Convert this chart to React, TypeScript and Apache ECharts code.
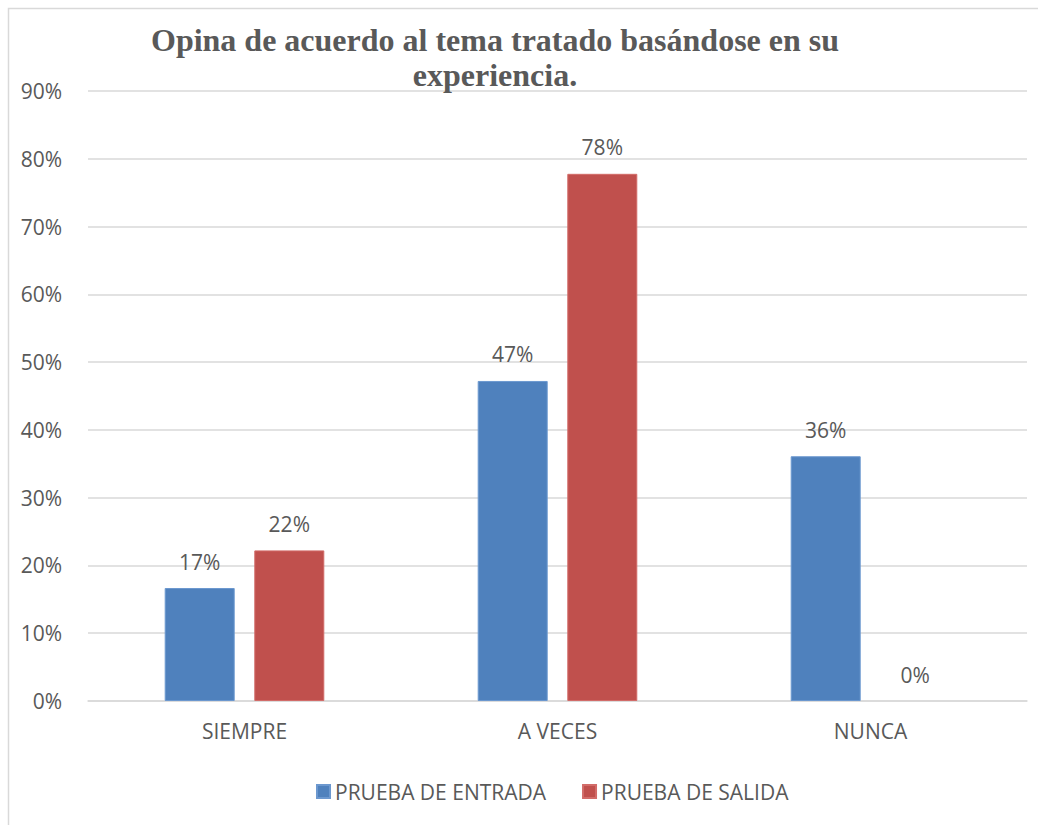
import React, { useEffect, useRef } from "react";
import * as echarts from "echarts";

const categories = ["SIEMPRE", "A VECES", "NUNCA"];
const entradaValues = [16.67, 47.22, 36.11];
const salidaValues = [22.22, 77.78, 0];
const seriesNames = ["PRUEBA DE ENTRADA", "PRUEBA DE SALIDA"];
const titleText = "Opina de acuerdo al tema tratado basándose en su\nexperiencia.";

const FONT = "'Open Sans', 'Liberation Sans', sans-serif";
const GREY = "#595959";

export default function App() {
  const ref = useRef<HTMLDivElement>(null);
  useEffect(() => {
    if (!ref.current) return;
    const chart = echarts.init(ref.current, null, { renderer: "svg" });
    const labelCfg = {
      show: true,
      position: "top" as const,
      distance: 16,
      color: GREY,
      fontFamily: FONT,
      fontSize: 21,
      formatter: (p: any) => Math.round(p.value) + "%",
    };
    const noBorderZero = (arr: number[]) =>
      arr.map((v) => (v === 0 ? { value: v, itemStyle: { borderWidth: 0 } } : v));
    chart.setOption({
      animation: false,
      backgroundColor: "#ffffff",
      title: {
        text: titleText,
        left: 490,
        top: 17,
        textAlign: "center",
        textStyle: {
          fontFamily: "'Liberation Serif', 'Times New Roman', serif",
          fontWeight: "bold",
          fontSize: 32,
          lineHeight: 35,
          color: GREY,
        },
      },
      graphic: [
        {
          type: "rect",
          shape: { x: 8.5, y: 8.5, width: 1100, height: 1000 },
          style: { fill: "none", stroke: "#d9d9d9", lineWidth: 1.5 },
          silent: true,
          z: -1,
        },
      ],
      legend: {
        data: seriesNames,
        bottom: 18,
        left: 311,
        itemWidth: 13,
        itemHeight: 13,
        itemGap: 36,
        icon: "rect",
        textStyle: { color: GREY, fontFamily: FONT, fontSize: 21 },
      },
      grid: { left: 88, right: 11, top: 91, bottom: 124, containLabel: false },
      xAxis: {
        type: "category",
        data: categories,
        axisLine: { lineStyle: { color: "#d9d9d9", width: 1.5 } },
        axisTick: { show: false },
        axisLabel: { color: GREY, fontFamily: FONT, fontSize: 21, margin: 19 },
      },
      yAxis: {
        type: "value",
        min: 0,
        max: 90,
        interval: 10,
        axisLine: { show: false },
        axisTick: { show: false },
        splitLine: { lineStyle: { color: "#d9d9d9", width: 1.5 } },
        axisLabel: {
          color: GREY,
          fontFamily: FONT,
          fontSize: 21,
          margin: 26,
          formatter: "{value}%",
        },
      },
      series: [
        {
          name: seriesNames[0],
          type: "bar",
          data: noBorderZero(entradaValues),
          barWidth: 70,
          barGap: "28%",
          itemStyle: { color: "#4F81BD", borderColor: "#6c98cf", borderWidth: 1 },
          label: labelCfg,
        },
        {
          name: seriesNames[1],
          type: "bar",
          data: noBorderZero(salidaValues),
          barWidth: 70,
          itemStyle: { color: "#C0504D", borderColor: "#d26c69", borderWidth: 1 },
          label: labelCfg,
        },
      ],
    });
    return () => chart.dispose();
  }, []);
  return (
    <div
      ref={ref}
      style={{ position: "fixed", left: 0, top: 0, width: 1038, height: 825 }}
    />
  );
}
